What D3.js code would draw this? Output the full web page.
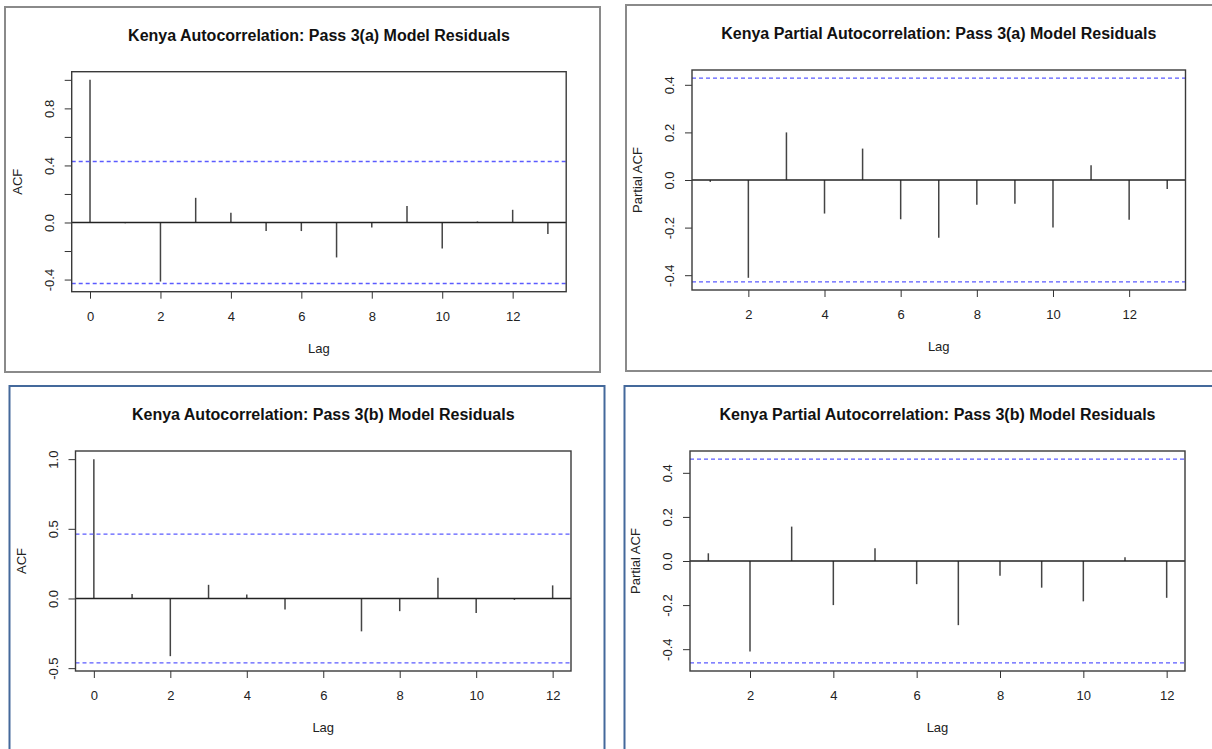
<!DOCTYPE html>
<html lang="en">
<head>
<meta charset="UTF-8">
<title>Kenya ACF / PACF: Pass 3 Model Residuals</title>
<script src="https://d3js.org/d3.v7.min.js"></script>
<style>
  body { margin: 0; background: #fff; }
  svg { display: block; font-family: "Liberation Sans", Arial, sans-serif; }
</style>
</head>
<body>
<svg id="chart" width="1212" height="749"></svg>
<script>
const acfLagsA = [0, 1, 2, 3, 4, 5, 6, 7, 8, 9, 10, 11, 12, 13];
const acfValsA = [1.0, -0.005, -0.414, 0.173, 0.068, -0.060, -0.060, -0.245, -0.035, 0.115, -0.182, 0.007, 0.089, -0.081];
const pacfLagsA = [1, 2, 3, 4, 5, 6, 7, 8, 9, 10, 11, 12, 13];
const pacfValsA = [-0.008, -0.411, 0.200, -0.141, 0.132, -0.165, -0.243, -0.104, -0.100, -0.200, 0.062, -0.167, -0.038];
const ciA = 0.428;

const acfLagsB = [0, 1, 2, 3, 4, 5, 6, 7, 8, 9, 10, 11, 12];
const acfValsB = [1.0, 0.033, -0.414, 0.098, 0.029, -0.079, -0.004, -0.236, -0.091, 0.148, -0.104, -0.010, 0.094];
const pacfLagsB = [1, 2, 3, 4, 5, 6, 7, 8, 9, 10, 11, 12];
const pacfValsB = [0.035, -0.410, 0.156, -0.200, 0.058, -0.105, -0.291, -0.067, -0.121, -0.183, 0.017, -0.167];
const ciB = 0.462;

const xTicksAcf = [0, 2, 4, 6, 8, 10, 12];
const xTicksPacf = [2, 4, 6, 8, 10, 12];
const yTicksAcfA = [-0.4, -0.2, 0, 0.2, 0.4, 0.6, 0.8, 1.0];
const yLabelsAcfA = ["-0.4", "", "0.0", "", "0.4", "", "0.8", ""];
const yTicksPacf = [-0.4, -0.2, 0, 0.2, 0.4];
const yLabelsPacf = ["-0.4", "-0.2", "0.0", "0.2", "0.4"];
const yTicksAcfB = [-0.5, 0, 0.5, 1.0];
const yLabelsAcfB = ["-0.5", "0.0", "0.5", "1.0"];

const svg = d3.select("#chart");

const panels = [
    { title: "Kenya Autocorrelation: Pass 3(a) Model Residuals", ylab: "ACF",
      lags: acfLagsA, vals: acfValsA, ci: ciA, xTicks: xTicksAcf, yTicks: yTicksAcfA, yLabels: yLabelsAcfA,
      frame: { x: 5, y: 7, w: 595, h: 365, color: "#8a8a8a" },
      plot: { l: 71.7, t: 71.7, w: 494.5, h: 220 } },
    { title: "Kenya Partial Autocorrelation: Pass 3(a) Model Residuals", ylab: "Partial ACF",
      lags: pacfLagsA, vals: pacfValsA, ci: ciA, xTicks: xTicksPacf, yTicks: yTicksPacf, yLabels: yLabelsPacf,
      frame: { x: 626, y: 5, w: 600, h: 366, color: "#8a8a8a" },
      plot: { l: 692, t: 70, w: 493.5, h: 220 } },
    { title: "Kenya Autocorrelation: Pass 3(b) Model Residuals", ylab: "ACF",
      lags: acfLagsB, vals: acfValsB, ci: ciB, xTicks: xTicksAcf, yTicks: yTicksAcfB, yLabels: yLabelsAcfB,
      frame: { x: 9.5, y: 386, w: 595, h: 380, color: "#44699b" },
      plot: { l: 75.5, t: 451, w: 495.5, h: 220 } },
    { title: "Kenya Partial Autocorrelation: Pass 3(b) Model Residuals", ylab: "Partial ACF",
      lags: pacfLagsB, vals: pacfValsB, ci: ciB, xTicks: xTicksPacf, yTicks: yTicksPacf, yLabels: yLabelsPacf,
      frame: { x: 624.5, y: 386, w: 600, h: 380, color: "#44699b" },
      plot: { l: 690, t: 451, w: 495, h: 220 } }
];

panels.forEach(p => {
    // picture frame
    svg.append("rect")
        .attr("x", p.frame.x).attr("y", p.frame.y)
        .attr("width", p.frame.w).attr("height", p.frame.h)
        .attr("fill", "none").attr("stroke", p.frame.color).attr("stroke-width", 2);

    const pl = p.plot;
    // R-style 4% axis expansion
    const [x0, x1] = d3.extent(p.lags);
    const xPad = (x1 - x0) * 0.04;
    const y0 = Math.min(d3.min(p.vals), -p.ci);
    const y1 = Math.max(d3.max(p.vals), p.ci);
    const yPad = (y1 - y0) * 0.04;

    const x = d3.scaleLinear().domain([x0 - xPad, x1 + xPad]).range([0, pl.w]);
    const y = d3.scaleLinear().domain([y0 - yPad, y1 + yPad]).range([pl.h, 0]);

    const g = svg.append("g").attr("transform", `translate(${pl.l},${pl.t})`);

    // x axis
    g.append("g")
        .attr("transform", `translate(0,${pl.h})`)
        .call(d3.axisBottom(x).tickValues(p.xTicks).tickSize(7).tickFormat(d3.format("d")))
        .call(a => a.select(".domain").remove())
        .call(a => a.selectAll(".tick line").attr("stroke", "#333"))
        .call(a => a.selectAll(".tick text")
            .attr("y", 24.3).attr("dy", "0.35em")
            .attr("fill", "#222").style("font-size", "13px"));

    // y axis, labels parallel to the axis like R
    g.append("g")
        .call(d3.axisLeft(y).tickValues(p.yTicks).tickSize(7).tickFormat((d, i) => p.yLabels[i]))
        .call(a => a.select(".domain").remove())
        .call(a => a.selectAll(".tick line").attr("stroke", "#333"))
        .call(a => a.selectAll(".tick text")
            .attr("x", null).attr("dy", null)
            .attr("text-anchor", "middle")
            .attr("transform", "translate(-18,0) rotate(-90)")
            .attr("fill", "#222").style("font-size", "13px"));

    // spikes
    g.selectAll(".spike")
        .data(p.lags.map((l, i) => [l, p.vals[i]]))
        .enter().append("line")
        .attr("class", "spike")
        .attr("x1", d => x(d[0])).attr("x2", d => x(d[0]))
        .attr("y1", y(0)).attr("y2", d => y(d[1]))
        .attr("stroke", "#444").attr("stroke-width", 1.5);

    // zero line
    g.append("line")
        .attr("x1", 0).attr("x2", pl.w)
        .attr("y1", y(0)).attr("y2", y(0))
        .attr("stroke", "#222").attr("stroke-width", 1.4);

    // confidence bounds
    [p.ci, -p.ci].forEach(c => {
        g.append("line")
            .attr("x1", 0).attr("x2", pl.w)
            .attr("y1", y(c)).attr("y2", y(c))
            .attr("stroke", "#5b5bff").attr("stroke-width", 1.4)
            .attr("stroke-dasharray", "4,3");
    });

    // box
    g.append("rect")
        .attr("width", pl.w).attr("height", pl.h)
        .attr("fill", "none").attr("stroke", "#3a3a3a").attr("stroke-width", 1.4);

    // title and axis labels
    g.append("text")
        .attr("x", pl.w / 2).attr("y", -36.7)
        .attr("text-anchor", "middle").attr("dominant-baseline", "central")
        .style("font-size", "16px").style("font-weight", "bold").attr("fill", "#111")
        .text(p.title);

    g.append("text")
        .attr("x", pl.w / 2).attr("y", pl.h + 56.5)
        .attr("text-anchor", "middle").attr("dominant-baseline", "central")
        .style("font-size", "13px").attr("fill", "#222")
        .text("Lag");

    g.append("text")
        .attr("transform", `translate(-54.5,${pl.h / 2}) rotate(-90)`)
        .attr("text-anchor", "middle").attr("dominant-baseline", "central")
        .style("font-size", "13px").attr("fill", "#222")
        .text(p.ylab);
});
</script>
</body>
</html>
